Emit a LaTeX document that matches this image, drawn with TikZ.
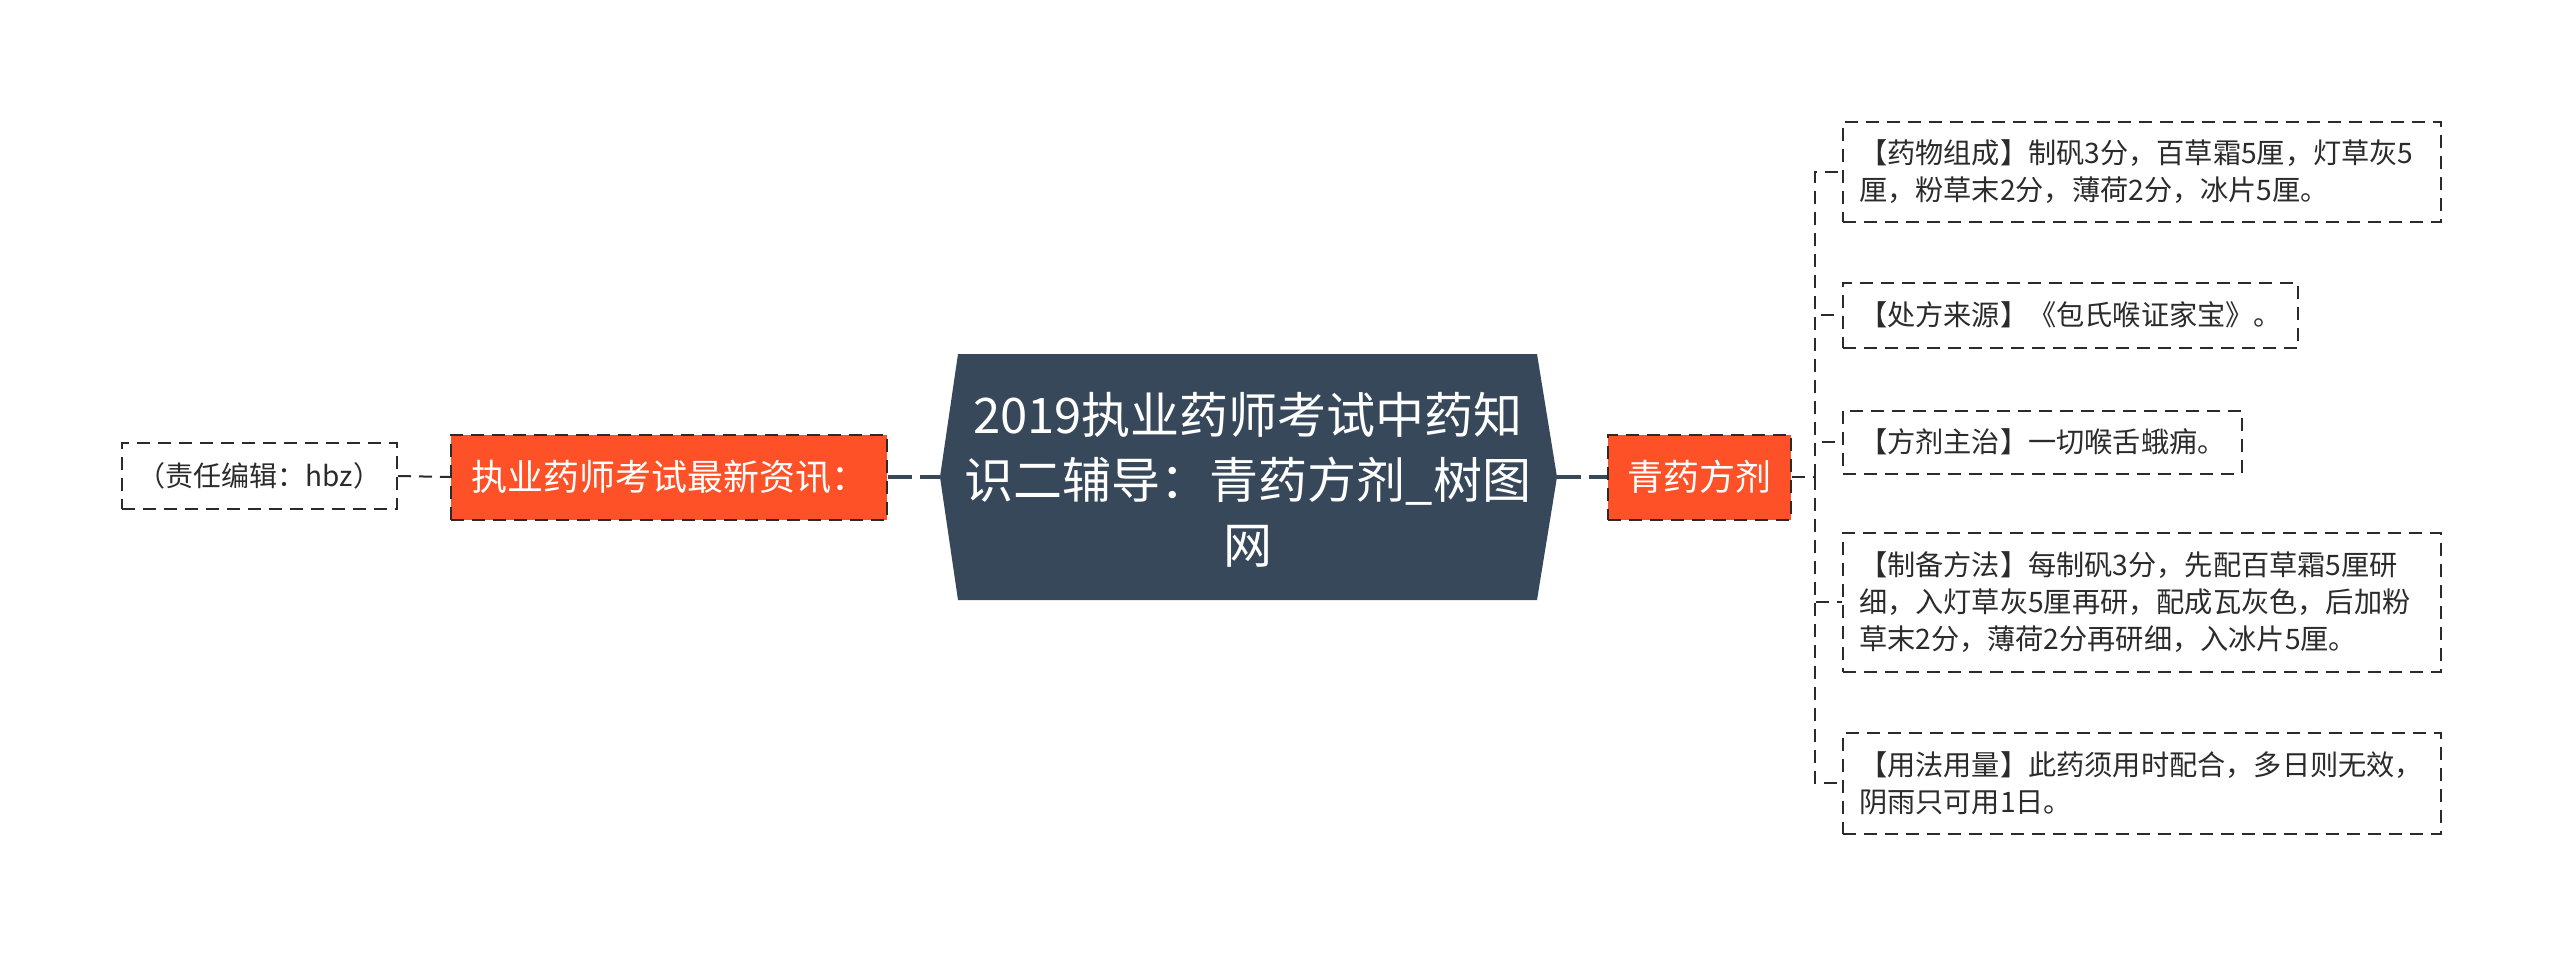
\documentclass[tikz,border=0pt]{standalone}
\usepackage{fontspec}
\setmainfont{Noto Sans CJK SC}
\definecolor{slate}{HTML}{37485A}
\definecolor{flame}{HTML}{FF5128}
\definecolor{ink}{HTML}{2B2B2B}
\tikzset{
    dashline/.style={draw=ink, line width=1pt, dash pattern=on 6.5pt off 4pt},
    thickline/.style={draw=slate, line width=2.2pt, dash pattern=on 12pt off 4pt},
    redbox/.style={dashline, fill=flame, text=white, inner sep=0pt,
        minimum height=42.5pt, font=\fontsize{18pt}{22pt}\selectfont},
    infobox/.style={dashline, fill=white, text=ink, anchor=west, align=left,
        inner xsep=8pt, inner ysep=0pt, font=\fontsize{14.1pt}{18.5pt}\selectfont},
    widebox/.style={infobox, text width=283pt},
}
\begin{document}
\begin{tikzpicture}[x=0.5pt,y=-0.5pt]
    \fill[white] (0,0) rectangle (2560,955);
    \useasboundingbox (0,0) rectangle (2560,955);
    % central topic
    \fill[slate] (958,354) -- (1537,354) -- (1557,477) coordinate (titleE)
        -- (1537,600) -- (958,600) -- (940,477) coordinate (titleW) -- cycle;
    \node[text=white, align=center, inner sep=0pt,
        font=\fontsize{24.5pt}{32.5pt}\selectfont] (title) at (1248,480)
        {2019执业药师考试中药知\\识二辅导：青药方剂\_树图\\网};
    % left side
    \node[redbox, minimum width=218pt] (news) at (669,477) {执业药师考试最新资讯：};
    \node[dashline, text=ink, inner sep=0pt, minimum width=137.5pt, minimum height=33pt,
        font=\fontsize{14pt}{18pt}\selectfont] (note) at (259.5,476) {（责任编辑：hbz）};
    % right side
    \node[redbox, minimum width=91.5pt] (qyfj) at (1699.5,477) {青药方剂};
    \coordinate (fork) at (1815,477);
    \node[widebox, minimum height=50pt] (b1) at (1842,172)
        {【药物组成】制矾3分，百草霜5厘，灯草灰5\\厘，粉草末2分，薄荷2分，冰片5厘。};
    \node[infobox, minimum height=32.5pt] (b2) at (1842,315)
        {【处方来源】《包氏喉证家宝》。};
    \node[infobox, minimum height=31.5pt] (b3) at (1842,442)
        {【方剂主治】一切喉舌蛾痈。};
    \node[widebox, minimum height=69.5pt] (b4) at (1842,602)
        {【制备方法】每制矾3分，先配百草霜5厘研\\细，入灯草灰5厘再研，配成瓦灰色，后加粉\\草末2分，薄荷2分再研细，入冰片5厘。};
    \node[widebox, minimum height=50.5pt] (b5) at (1842,783)
        {【用法用量】此药须用时配合，多日则无效，\\阴雨只可用1日。};
    % connectors
    \draw[thickline] (news.east) -- (titleW);
    \draw[thickline] (titleE) -- (qyfj.west);
    \draw[dashline] (note.east) -- (news.west);
    \draw[dashline] (qyfj.east) -- (fork);
    \foreach \b in {b1,b2,b3,b4,b5}
        \draw[dashline] (fork) |- (\b.west);
\end{tikzpicture}
\end{document}
